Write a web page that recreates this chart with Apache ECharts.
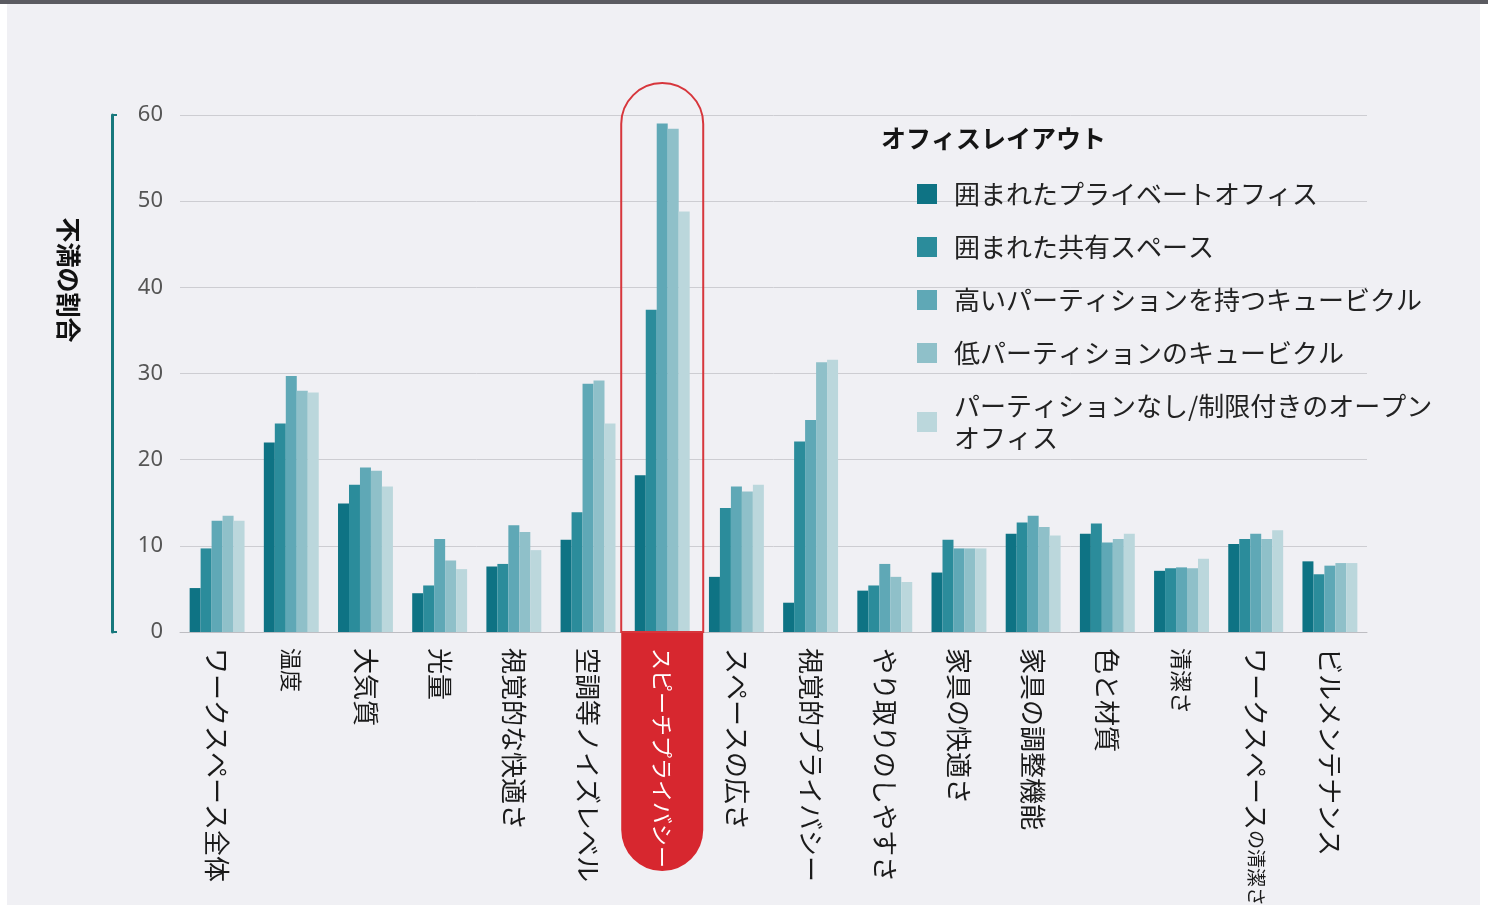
<!DOCTYPE html>
<html>
<head>
<meta charset="utf-8">
<script src="https://cdn.jsdelivr.net/npm/echarts@6/dist/echarts.min.js"></script>
<style>
  html,body{margin:0;padding:0;background:#fff;}
  #wrap{position:relative;width:1488px;height:908px;overflow:hidden;}
  #chart{position:absolute;left:0;top:0;width:1488px;height:908px;background:#f0f0f4;}
  .edge{position:absolute;background:#fff;}
</style>
</head>
<body>
<div id="wrap">
  <div id="chart"></div>
  <div class="edge" style="left:0;top:0;width:7px;height:908px;"></div>
  <div class="edge" style="right:0;top:0;width:8px;height:908px;"></div>
  <div class="edge" style="left:0;bottom:0;width:1488px;height:3px;"></div>
  <div style="position:absolute;left:0;top:0;width:1488px;height:4px;background:#5b5b61;"></div>
</div>
<script>
const categories = ['ワークスペース全体','温度','大気質','光量','視覚的な快適さ','空調等ノイズレベル','スピーチプライバシー','スペースの広さ','視覚的プライバシー','やり取りのしやすさ','家具の快適さ','家具の調整機能','色と材質','清潔さ','ワークスペースの清潔さ','ビルメンテナンス'];
const seriesNames = ['囲まれたプライベートオフィス','囲まれた共有スペース','高いパーティションを持つキュービクル','低パーティションのキュービクル','パーティションなし/制限付きのオープンオフィス'];
const privateOffice = [5.1, 22.0, 14.9, 4.5, 7.6, 10.7, 18.2, 6.4, 3.4, 4.8, 6.9, 11.4, 11.4, 7.1, 10.2, 8.2];
const sharedSpace   = [9.7, 24.2, 17.1, 5.4, 7.9, 13.9, 37.4, 14.4, 22.1, 5.4, 10.7, 12.7, 12.6, 7.4, 10.8, 6.7];
const highCubicle   = [12.9, 29.7, 19.1, 10.8, 12.4, 28.8, 59.0, 16.9, 24.6, 7.9, 9.7, 13.5, 10.4, 7.5, 11.4, 7.7];
const lowCubicle    = [13.5, 28.0, 18.7, 8.3, 11.6, 29.2, 58.4, 16.3, 31.3, 6.4, 9.7, 12.2, 10.8, 7.4, 10.8, 8.0];
const openOffice    = [12.9, 27.8, 16.9, 7.3, 9.5, 24.2, 48.8, 17.1, 31.6, 5.8, 9.7, 11.2, 11.4, 8.5, 11.8, 8.0];
const yTicks = [0, 10, 20, 30, 40, 50, 60];
const highlightCategory = 'スピーチプライバシー';

const colors = ['#0e7384', '#2b8c9b', '#5fa8b6', '#8fc0c9', '#bbd7dc'];
const seriesData = [privateOffice, sharedSpace, highCubicle, lowCubicle, openOffice];
const jp = '"Noto Sans CJK JP", "Noto Sans", sans-serif';

const chart = echarts.init(document.getElementById('chart'), null, {renderer: 'canvas'});
const option = {
  animation: false,
  color: colors,
  textStyle: {fontFamily: jp},
  title: {
    text: 'オフィスレイアウト',
    left: 876, top: 121,
    textStyle: {fontSize: 25, fontWeight: 'bold', color: '#151515', fontFamily: jp}
  },
  legend: {
    orient: 'vertical',
    left: 912, top: 173,
    icon: 'rect',
    itemWidth: 20, itemHeight: 20,
    itemGap: 21,
    data: seriesNames,
    formatter: function (n) {
      return n === seriesNames[4] ? 'パーティションなし/制限付きのオープン\nオフィス' : n;
    },
    textStyle: {fontSize: 26, lineHeight: 32, color: '#222', fontFamily: jp, padding: [0, 0, 0, 12]}
  },
  grid: {left: 180, right: 121, top: 115, bottom: 276, containLabel: false, outerBoundsMode: 'none'},
  xAxis: {
    type: 'category',
    data: categories,
    axisLine: {lineStyle: {color: '#bdbdc2', width: 1}},
    axisTick: {show: false},
    axisLabel: {
      rotate: -90,
      interval: 0,
      margin: 16,
      fontSize: 26,
      fontFamily: jp,
      color: '#1a1a1a',
      formatter: function (v) {
        if (v === highlightCategory) return '{hl|' + v + '}';
        if (v === 'ワークスペースの清潔さ') return 'ワークスペース{sm|の清潔さ}';
        if (v === '温度' || v === '清潔さ') return '{md|' + v + '}';
        return v;
      },
      rich: {
        hl: {fontSize: 22, color: '#ffffff', fontFamily: jp},
        sm: {fontSize: 19, color: '#1a1a1a', fontFamily: jp},
        md: {fontSize: 22, color: '#1a1a1a', fontFamily: jp}
      }
    }
  },
  yAxis: [{
    type: 'value',
    min: 0, max: 60, interval: 10,
    axisLine: {show: false},
    axisTick: {show: false},
    axisLabel: {fontSize: 22, color: '#555', margin: 17, fontFamily: '"Noto Sans", sans-serif'},
    splitLine: {lineStyle: {color: '#cdcdd2', width: 1}}
  }, {
    type: 'value',
    position: 'left',
    offset: 68,
    min: 0, max: 60, interval: 60,
    axisLine: {show: true, lineStyle: {color: '#17787c', width: 3}},
    axisTick: {show: true, inside: true, length: 5, lineStyle: {color: '#17787c', width: 2}},
    axisLabel: {show: false},
    splitLine: {show: false}
  }],
  series: seriesNames.map(function (name, i) {
    return {
      name: name,
      type: 'bar',
      data: seriesData[i],
      barGap: '0%',
      barCategoryGap: '26%',
      itemStyle: {color: colors[i]}
    };
  })
};
chart.setOption(option);

function drawOverlay() {
  const cx = chart.convertToPixel({xAxisIndex: 0}, highlightCategory);
  const y0 = chart.convertToPixel({yAxisIndex: 0}, 0);
  const yTop = chart.convertToPixel({yAxisIndex: 0}, 63.7);
  const half = 41;
  const bottom = 871;
  chart.setOption({
    graphic: [
      {
        type: 'rect', z: -1, silent: true,
        shape: {x: cx - half, y: y0, width: half * 2, height: bottom - y0, r: [0, 0, half, half]},
        style: {fill: '#d7272f'}
      },
      {
        type: 'rect', z: 10, silent: true,
        shape: {x: cx - half, y: yTop, width: half * 2, height: y0 - yTop, r: [half, half, 0, 0]},
        style: {fill: 'none', stroke: '#d7363c', lineWidth: 2}
      },
      {
        type: 'text', silent: true,
        x: 68, y: 280, rotation: -Math.PI / 2,
        style: {text: '不満の割合', fontSize: 25, fontWeight: 'bold', fill: '#111', align: 'center', verticalAlign: 'middle', fontFamily: jp}
      }
    ]
  });
}
drawOverlay();
</script>
</body>
</html>
